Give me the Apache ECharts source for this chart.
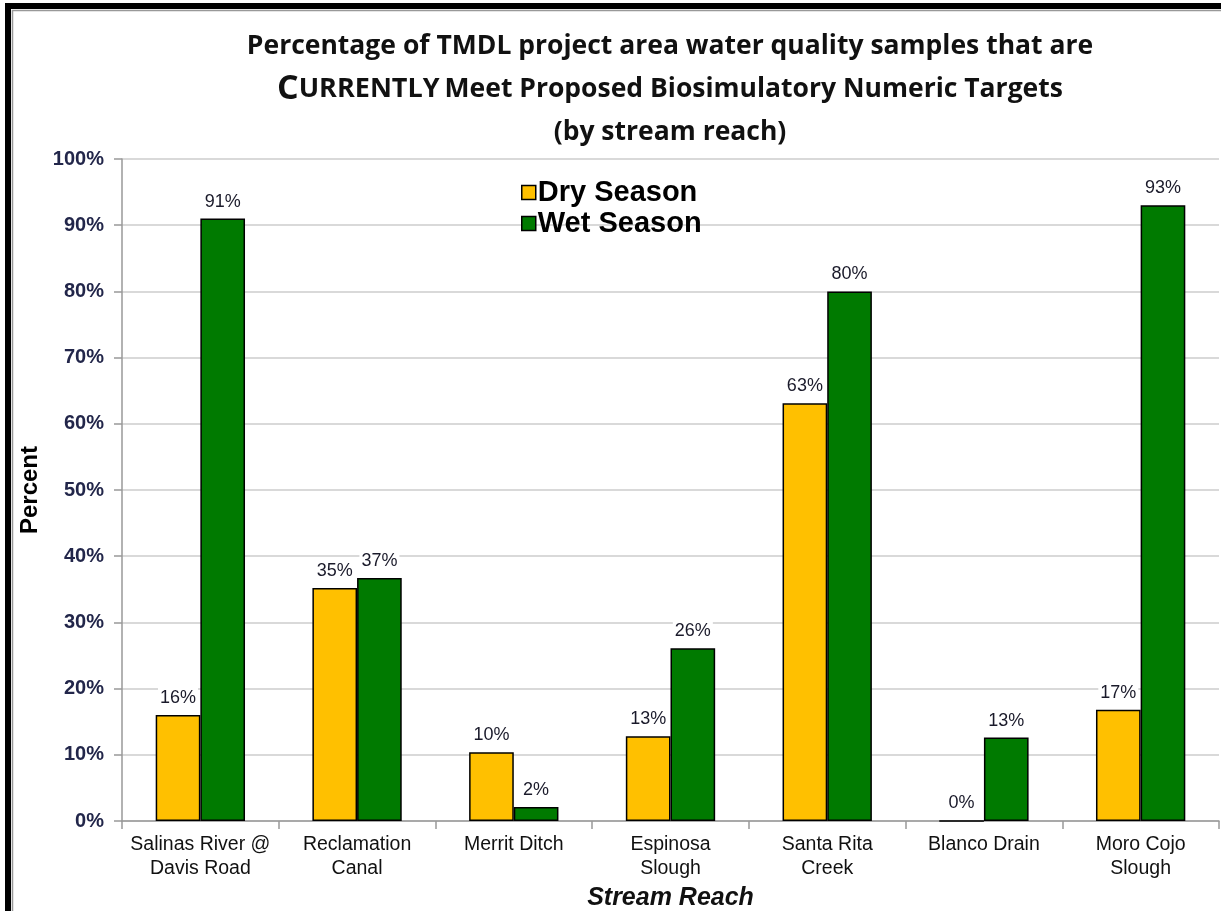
<!DOCTYPE html>
<html>
<head>
<meta charset="utf-8">
<script src="https://cdn.jsdelivr.net/npm/echarts@6/dist/echarts.min.js"></script>
<style>
  html, body { margin: 0; padding: 0; background: #fff; }
  #chart { width: 1221px; height: 911px; }
</style>
</head>
<body>
<div id="chart"></div>
<script>
// categories and values
const reaches = ['Salinas River @\nDavis Road', 'Reclamation\nCanal', 'Merrit Ditch', 'Espinosa\nSlough', 'Santa Rita\nCreek', 'Blanco Drain', 'Moro Cojo\nSlough'];
const drySeason = [16, 35.2, 10.4, 12.8, 63.1, 0, 16.8];
const wetSeason = [91, 36.7, 2.1, 26.1, 80, 12.6, 93];
const yTicks = [0, 100, 10];   // min, max, interval

let myChart = echarts.init(document.getElementById('chart'));

let barLabel = {
    show: true,
    position: 'top',
    distance: 7,
    color: '#1a1a2a',
    fontFamily: 'Liberation Sans',
    fontSize: 18,
    backgroundColor: '#fff',
    padding: [2, 2, 1, 2],
    formatter: (p) => Math.round(p.value) + '%'
};

let titleFont = { fontFamily: 'Open Sans', fontWeight: 700, color: '#111', lineHeight: 43 };

let option = {
    backgroundColor: '#fff',
    animation: false,
    title: {
        left: 665,
        textAlign: 'center',
        top: 20,
        text: '{a|Percentage of TMDL project area water quality samples that are}\n{b|C}{c|URRENTLY} {a|Meet Proposed Biosimulatory Numeric Targets}\n{a|(by stream reach)}',
        textStyle: {
            rich: {
                a: Object.assign({ fontSize: 26.5 }, titleFont),
                b: Object.assign({ fontSize: 34 }, titleFont),
                c: Object.assign({ fontSize: 27 }, titleFont)
            }
        }
    },
    legend: {
        orient: 'vertical',
        left: 516,
        top: 173,
        itemWidth: 14,
        itemHeight: 14,
        itemGap: 2,
        icon: 'rect',
        itemStyle: { borderColor: '#000', borderWidth: 1.5 },
        textStyle: { fontFamily: 'Liberation Sans', fontWeight: 'bold', fontSize: 29, color: '#000', padding: [0, 0, 0, -3] },
        data: ['Dry Season', 'Wet Season']
    },
    grid: {
        left: 122,
        right: 2,
        top: 159,
        bottom: 90,
        outerBoundsMode: 'none'
    },
    xAxis: {
        type: 'category',
        data: reaches,
        name: 'Stream Reach',
        nameLocation: 'middle',
        nameGap: 64,
        nameTextStyle: { fontFamily: 'Liberation Sans', fontWeight: 'bold', fontStyle: 'italic', fontSize: 25, color: '#111' },
        axisLine: { lineStyle: { color: '#999', width: 1.5 } },
        axisTick: { show: true, length: 8, lineStyle: { color: '#999', width: 1.5 } },
        axisLabel: {
            interval: 0,
            margin: 12,
            fontFamily: 'Liberation Sans',
            fontSize: 19.5,
            lineHeight: 24,
            color: '#111'
        }
    },
    yAxis: {
        type: 'value',
        min: yTicks[0],
        max: yTicks[1],
        interval: yTicks[2],
        name: 'Percent',
        nameLocation: 'middle',
        nameGap: 76,
        nameRotate: 90,
        nameTextStyle: { fontFamily: 'Liberation Sans', fontWeight: 'bold', fontSize: 24, color: '#000' },
        axisLine: { show: true, lineStyle: { color: '#999', width: 1.5 } },
        axisTick: { show: true, length: 8, lineStyle: { color: '#999', width: 1.5 } },
        axisLabel: {
            margin: 18,
            fontFamily: 'Liberation Sans',
            fontWeight: 'bold',
            fontSize: 20,
            color: '#22264a',
            formatter: '{value}%'
        },
        splitLine: { lineStyle: { color: '#cccccc', width: 1.5 } }
    },
    series: [
        {
            name: 'Dry Season',
            type: 'bar',
            data: drySeason,
            barGap: '0%',
            barCategoryGap: '43%',
            itemStyle: { color: '#ffc000', borderColor: '#000', borderWidth: 1.5 },
            label: barLabel
        },
        {
            name: 'Wet Season',
            type: 'bar',
            data: wetSeason,
            barGap: '0%',
            barCategoryGap: '43%',
            itemStyle: { color: '#007a00', borderColor: '#000', borderWidth: 1.5 },
            label: barLabel
        }
    ],
    graphic: [
        {   // outer black frame of the pasted chart
            type: 'rect',
            shape: { x: 8, y: 6, width: 1260, height: 960 },
            style: { fill: 'none', stroke: '#000', lineWidth: 6 },
            silent: true
        },
        {
            type: 'rect',
            shape: { x: 12.5, y: 10.5, width: 1260, height: 960 },
            style: { fill: 'none', stroke: '#999', lineWidth: 1.5 },
            silent: true
        }
    ]
};
myChart.setOption(option);
</script>
</body>
</html>
